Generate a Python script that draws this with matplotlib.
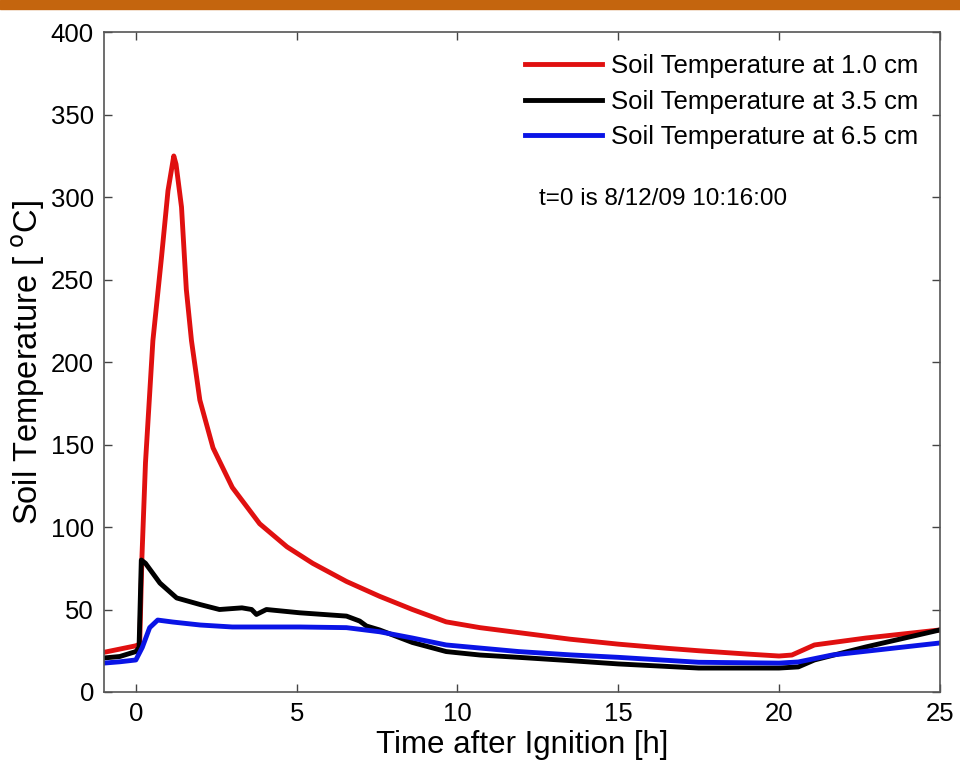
import matplotlib.pyplot as plt
from matplotlib.patches import Rectangle

plt.rcParams['font.family'] = ['Liberation Sans', 'DejaVu Sans']

# data (time in hours, temperature in deg C)
t_red = [-1, -0.5, 0, 0.12, 0.19, 0.3, 0.53, 0.8, 1.0, 1.18, 1.25, 1.42, 1.57, 1.73,
         1.99, 2.4, 3.0, 3.85, 4.7, 5.5, 6.55, 7.58, 8.6, 9.65, 10.7, 11.9, 13.5, 15,
         16.5, 17.5, 19, 20, 20.4, 21.1, 22.7, 25]
temp_red = [24, 26, 28, 29, 82, 139, 213, 264, 304, 325, 320, 294, 244, 213,
            177, 148, 124, 102, 88, 78, 67, 58, 50, 42.5, 39, 36, 32, 29,
            26.5, 25, 23, 21.8, 22.4, 28.5, 32.7, 37.6]

t_black = [-1, -0.5, 0, 0.1, 0.17, 0.3, 0.75, 1.27, 2.0, 2.6, 3.3, 3.6, 3.75, 4.06,
           5.1, 6.55, 6.96, 7.17, 7.58, 8.6, 9.65, 10.7, 11.9, 13.5, 15, 17.5, 20,
           20.6, 21.1, 22.7, 25]
temp_black = [20.6, 21.5, 24.5, 27, 80, 78, 66, 57, 53, 50, 51, 50, 47, 50,
              48, 46, 43, 40, 37.6, 30, 24.5, 22.4, 21, 19, 17, 14.5, 14.5,
              15.2, 19.4, 27.3, 37.6]

t_blue = [-1, -0.5, 0, 0.2, 0.43, 0.68, 1.15, 2.0, 3.0, 4.0, 5.1, 6.55, 7.58, 8.6,
          9.65, 11.9, 13.5, 15, 17.5, 20, 20.6, 21.65, 25]
temp_blue = [17.5, 18.3, 19.4, 27, 39, 43.6, 42.4, 40.6, 39.4, 39.4, 39.4, 39, 36.5, 32.7,
             28.5, 24.5, 22.5, 21, 18, 17.5, 18.2, 22.4, 29.7]

labels = ['Soil Temperature at 1.0 cm', 'Soil Temperature at 3.5 cm', 'Soil Temperature at 6.5 cm']

fig = plt.figure(figsize=(9.6, 7.68), dpi=100)
# orange slide header band
fig.patches.append(Rectangle((0, 0.988), 1, 0.012, transform=fig.transFigure,
                             color='#c4650e', zorder=0))

ax = fig.add_axes([0.108, 0.099, 0.871, 0.859])
ax.plot(t_red, temp_red, color='#e01010', lw=3.5, label=labels[0])
ax.plot(t_black, temp_black, color='black', lw=3.5, label=labels[1])
ax.plot(t_blue, temp_blue, color='#0a14e6', lw=3.5, label=labels[2])

ax.set_xlim(-1, 25)
ax.set_ylim(0, 400)
ax.set_xticks([0, 5, 10, 15, 20, 25])
ax.set_yticks(range(0, 401, 50))
ax.tick_params(direction='in', top=True, right=True, length=6, width=1,
               color='#444444', labelsize=18.5, pad=7)
for s in ax.spines.values():
    s.set_color('#555555')
    s.set_linewidth(1.2)

ax.set_xlabel('Time after Ignition [h]', fontsize=22.5, labelpad=3)
ax.set_ylabel('Soil Temperature [ $^{\\rm o}$C]', fontsize=23.5, labelpad=3)

ax.text(12.55, 299, 't=0 is 8/12/09 10:16:00', fontsize=17.5, va='center')

ax.legend(loc='upper right', frameon=False, fontsize=18.5, handlelength=3.0,
          handletextpad=0.35, labelspacing=0.45, bbox_to_anchor=(1.0, 1.0),
          borderaxespad=0.45)

fig.savefig('out.png', dpi=100)
